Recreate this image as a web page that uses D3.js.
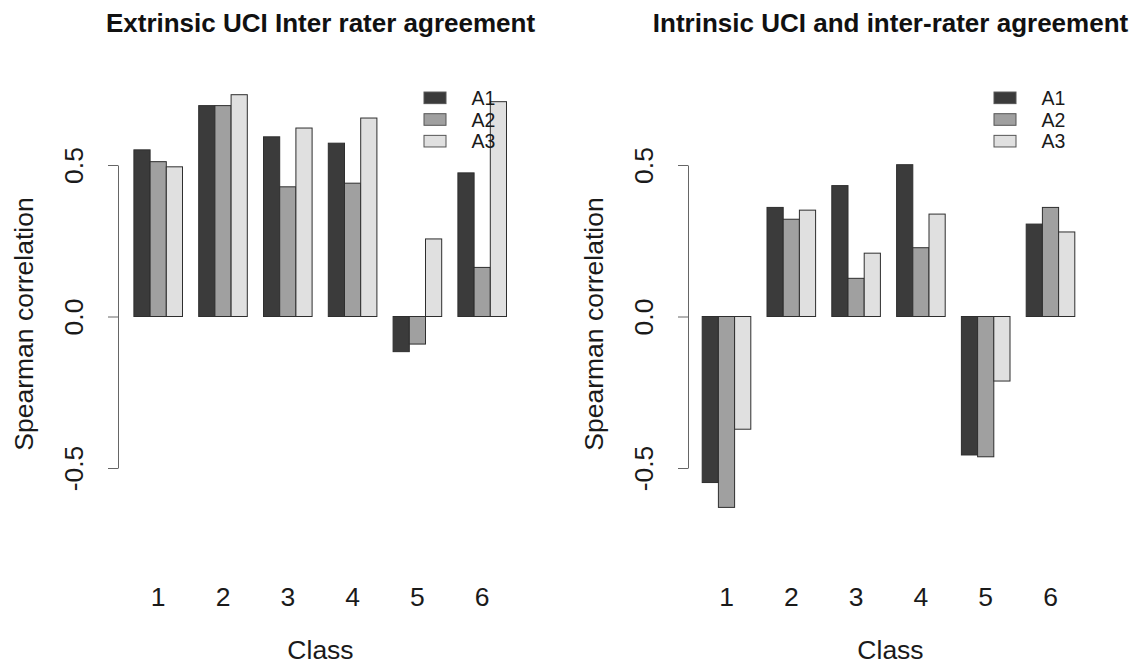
<!DOCTYPE html>
<html>
<head>
<meta charset="utf-8">
<script src="https://cdn.jsdelivr.net/npm/d3@7"></script>
<style>
  body { margin: 0; background: #fff; }
  svg { display: block; font-family: "Liberation Sans", Arial, Helvetica, sans-serif; }
</style>
</head>
<body>
<div id="chart"></div>
<script>
// data
const classes = ["1", "2", "3", "4", "5", "6"];
const series = ["A1", "A2", "A3"];
const colors = ["#3b3b3b", "#a0a0a0", "#e0e0e0"];
const yTicks = [-0.5, 0.0, 0.5];

const extrinsicA1 = [0.550, 0.696, 0.593, 0.572, -0.116, 0.474];
const extrinsicA2 = [0.511, 0.696, 0.428, 0.440, -0.091, 0.162];
const extrinsicA3 = [0.494, 0.732, 0.622, 0.655, 0.256, 0.709];

const intrinsicA1 = [-0.548, 0.360, 0.432, 0.501, -0.457, 0.305];
const intrinsicA2 = [-0.630, 0.321, 0.126, 0.227, -0.463, 0.360];
const intrinsicA3 = [-0.372, 0.351, 0.209, 0.338, -0.213, 0.279];

const width = 1139, height = 664;
const fontSize = 26.5;

const svg = d3.select("#chart").append("svg")
    .attr("width", width)
    .attr("height", height);

// one panel per chart, laid out like R's par(mfrow = c(1, 2))
const panels = [
    { title: "Extrinsic UCI Inter rater agreement", values: [extrinsicA1, extrinsicA2, extrinsicA3], axisX: 118, barStart: 133.9 },
    { title: "Intrinsic UCI and inter-rater agreement", values: [intrinsicA1, intrinsicA2, intrinsicA3], axisX: 688, barStart: 702.2 }
];

const y = d3.scaleLinear().domain([-0.5, 0.5]).range([468, 165]);

panels.forEach((p) => {
    const g = svg.append("g");
    const plotRight = p.axisX + 405;
    const center = (p.axisX + plotRight) / 2;
    const unit = 16.2;

    // outer band: one group per class, one unit of space between groups
    const x0 = d3.scaleBand()
        .domain(classes)
        .range([p.barStart, p.barStart + classes.length * 4 * unit - unit])
        .paddingInner(0.25)
        .paddingOuter(0);

    const x1 = d3.scaleBand()
        .domain(series)
        .range([0, x0.bandwidth()])
        .padding(0);

    const rows = [];
    classes.forEach((c, i) => {
        series.forEach((s, j) => rows.push({ c, s, j, v: p.values[j][i] }));
    });

    g.selectAll("rect.bar")
        .data(rows)
        .join("rect")
            .attr("class", "bar")
            .attr("x", (d) => x0(d.c) + x1(d.s))
            .attr("y", (d) => y(Math.max(0, d.v)))
            .attr("width", x1.bandwidth())
            .attr("height", (d) => Math.abs(y(d.v) - y(0)))
            .attr("fill", (d) => colors[d.j])
            .attr("stroke", "#2e2e2e")
            .attr("stroke-width", 1);

    // y axis (plain hyphen for the minus, as R prints it)
    g.append("g")
        .attr("transform", `translate(${p.axisX},0)`)
        .call(d3.axisLeft(y).tickValues(yTicks).tickSize(10).tickSizeOuter(0).tickFormat((d) => d.toFixed(1)))
        .call((a) => a.select(".domain").attr("stroke", "#666"))
        .call((a) => a.selectAll(".tick line").attr("stroke", "#666"))
        .call((a) => a.selectAll(".tick text")
            .attr("transform", "rotate(-90)")
            .attr("x", 0)
            .attr("y", -35)
            .attr("dy", 0)
            .attr("text-anchor", "middle")
            .attr("font-size", fontSize)
            .attr("font-family", null)
            .attr("fill", "#1a1a1a"));

    // class names under the groups
    g.selectAll("text.cls")
        .data(classes)
        .join("text")
            .attr("class", "cls")
            .attr("x", (d) => x0(d) + x0.bandwidth() / 2)
            .attr("y", 606)
            .attr("text-anchor", "middle")
            .attr("font-size", fontSize)
            .attr("fill", "#1a1a1a")
            .text((d) => d);

    g.append("text")
        .attr("x", center)
        .attr("y", 659)
        .attr("text-anchor", "middle")
        .attr("font-size", fontSize)
        .attr("fill", "#1a1a1a")
        .text("Class");

    g.append("text")
        .attr("transform", `translate(${p.axisX - 85},324) rotate(-90)`)
        .attr("text-anchor", "middle")
        .attr("font-size", fontSize)
        .attr("fill", "#1a1a1a")
        .text("Spearman correlation");

    g.append("text")
        .attr("x", center)
        .attr("y", 32)
        .attr("text-anchor", "middle")
        .attr("font-size", 26)
        .attr("font-weight", "bold")
        .attr("fill", "#111")
        .text(p.title);

    // legend
    const legend = g.append("g")
        .attr("transform", `translate(${p.axisX + 306},0)`);
    const ly = d3.scaleBand().domain(series).range([87, 152]);
    legend.selectAll("rect")
        .data(series)
        .join("rect")
            .attr("x", 0)
            .attr("y", (d) => ly(d) + ly.bandwidth() / 2 - 5.8)
            .attr("width", 22)
            .attr("height", 11.6)
            .attr("fill", (d, i) => colors[i])
            .attr("stroke", "#555")
            .attr("stroke-width", 1);
    legend.selectAll("text")
        .data(series)
        .join("text")
            .attr("x", 47.5)
            .attr("y", (d) => ly(d) + ly.bandwidth() / 2 + 7)
            .attr("font-size", 19.5)
            .attr("fill", "#1a1a1a")
            .text((d) => d);
});
</script>
</body>
</html>
